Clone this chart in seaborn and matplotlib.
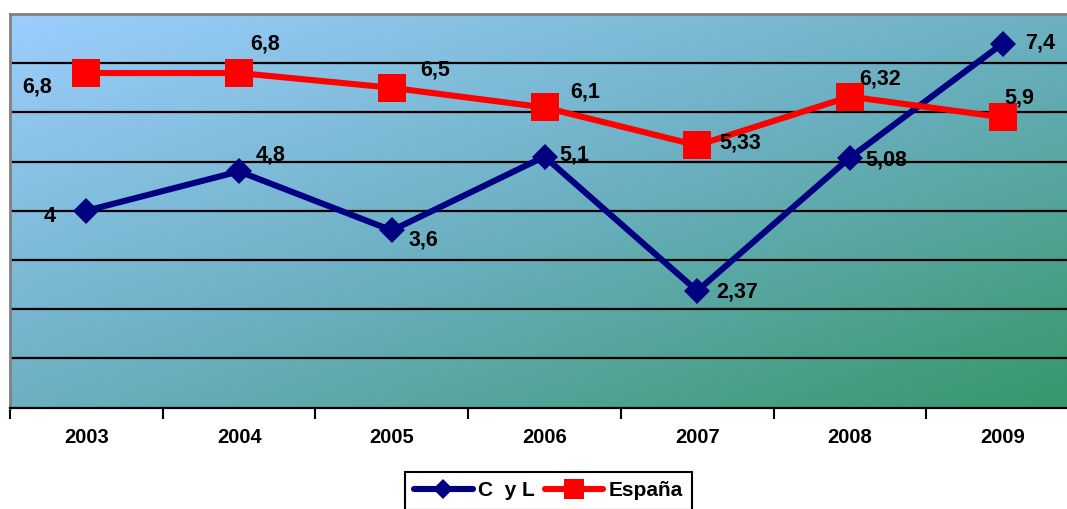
import numpy as np
import pandas as pd
import matplotlib
matplotlib.use("Agg")
import matplotlib.pyplot as plt
from matplotlib.colors import LinearSegmentedColormap
import seaborn as sns

years = ["2003", "2004", "2005", "2006", "2007", "2008", "2009"]
cyl = [4.0, 4.8, 3.6, 5.1, 2.37, 5.08, 7.4]
espana = [6.8, 6.8, 6.5, 6.1, 5.33, 6.32, 5.9]
cyl_labels = ["4", "4,8", "3,6", "5,1", "2,37", "5,08", "7,4"]
esp_labels = ["6,8", "6,8", "6,5", "6,1", "5,33", "6,32", "5,9"]
series_names = ["C  y L", "España"]

# label offsets in pixels (dx, dy) from each point
cyl_off = [(-37, -6), (31, 16), (32, -10), (30, 2), (40, -1), (36, -2), (37, 1)]
esp_off = [(-49, -14), (26, 29), (43, 18), (41, 15), (43, 2), (30, 18), (17, 19)]

sns.set_style("white")
plt.rcParams["font.family"] = ["Liberation Sans", "DejaVu Sans"]
plt.rcParams["text.color"] = "black"
plt.rcParams["xtick.color"] = "black"

fig = plt.figure(figsize=(10.67, 5.09), dpi=100)
ax = fig.add_axes([10 / 1067, 1 - 407.5 / 509, 1069 / 1067, (407.5 - 14) / 509])

# diagonal gradient background
n = 300
u, v = np.meshgrid(np.linspace(0, 1, n), np.linspace(1, 0, n))
t = (u + (1 - v)) / 2
cmap = LinearSegmentedColormap.from_list("bg", ["#9CCEFD", "#6CB0C2", "#36976A"])
ax.imshow(t, cmap=cmap, extent=[0, 1, 0, 1], transform=ax.transAxes,
          aspect="auto", zorder=0, interpolation="bilinear")

x = np.arange(len(years))
df = pd.DataFrame({"x": np.concatenate([x, x]),
                   "value": cyl + espana,
                   "serie": [series_names[0]] * len(x) + [series_names[1]] * len(x)})

sns.lineplot(data=df[df.serie == series_names[0]], x="x", y="value", ax=ax,
             color="#000080", linewidth=4.4, marker="D", markersize=13.5,
             markeredgewidth=0, label=series_names[0], zorder=3)
sns.lineplot(data=df[df.serie == series_names[1]], x="x", y="value", ax=ax,
             color="#FF0000", linewidth=4.4, marker="s", markersize=19.5,
             markeredgewidth=0, label=series_names[1], zorder=3)

for xi, yi, lab, (dx, dy) in zip(x, cyl, cyl_labels, cyl_off):
    ax.annotate(lab, (xi, yi), xytext=(dx, dy), textcoords="offset pixels",
                ha="center", va="center", fontsize=15.5, fontweight="bold",
                color="black", zorder=5)
for xi, yi, lab, (dx, dy) in zip(x, espana, esp_labels, esp_off):
    ax.annotate(lab, (xi, yi), xytext=(dx, dy), textcoords="offset pixels",
                ha="center", va="center", fontsize=15.5, fontweight="bold",
                color="black", zorder=5)

ax.set_xlim(-0.5, 6.5)
ax.set_ylim(0, 8)
ax.set_yticks(np.arange(1, 8))
ax.set_yticklabels([])
ax.tick_params(axis="y", length=0)
ax.grid(axis="y", color="black", linewidth=1.6)
ax.grid(axis="x", visible=False)
ax.set_axisbelow(True)

ax.set_xticks(x)
ax.set_xticklabels(years, fontsize=14.5, fontweight="bold", color="black")
ax.set_xticks(np.arange(-0.5, 7.0, 1.0), minor=True)
ax.tick_params(axis="x", which="major", bottom=True, length=0, pad=15)
ax.tick_params(axis="x", which="minor", bottom=True, length=8, width=1.5,
               color="black", direction="out")
ax.set_xlabel("")
ax.set_ylabel("")

for s in ["left", "top"]:
    ax.spines[s].set_color("#808080")
    ax.spines[s].set_linewidth(2)
    ax.spines[s].set_visible(True)
ax.spines["right"].set_visible(False)
ax.spines["bottom"].set_color("black")
ax.spines["bottom"].set_linewidth(1.6)
ax.spines["bottom"].set_visible(True)

handles, labels = ax.get_legend_handles_labels()
if ax.get_legend() is not None:
    ax.get_legend().remove()
leg = fig.legend(handles, labels, loc="upper center", bbox_to_anchor=(0.514, 0.085),
                 ncol=2, frameon=True, fancybox=False, edgecolor="black",
                 framealpha=1, markerscale=0.75, handlelength=2.8,
                 columnspacing=0.5, handletextpad=0.25, borderpad=0.45,
                 borderaxespad=0.3, prop={"size": 15, "weight": "bold"})
leg.get_frame().set_linewidth(1.5)

fig.savefig("out.png", dpi=100)
